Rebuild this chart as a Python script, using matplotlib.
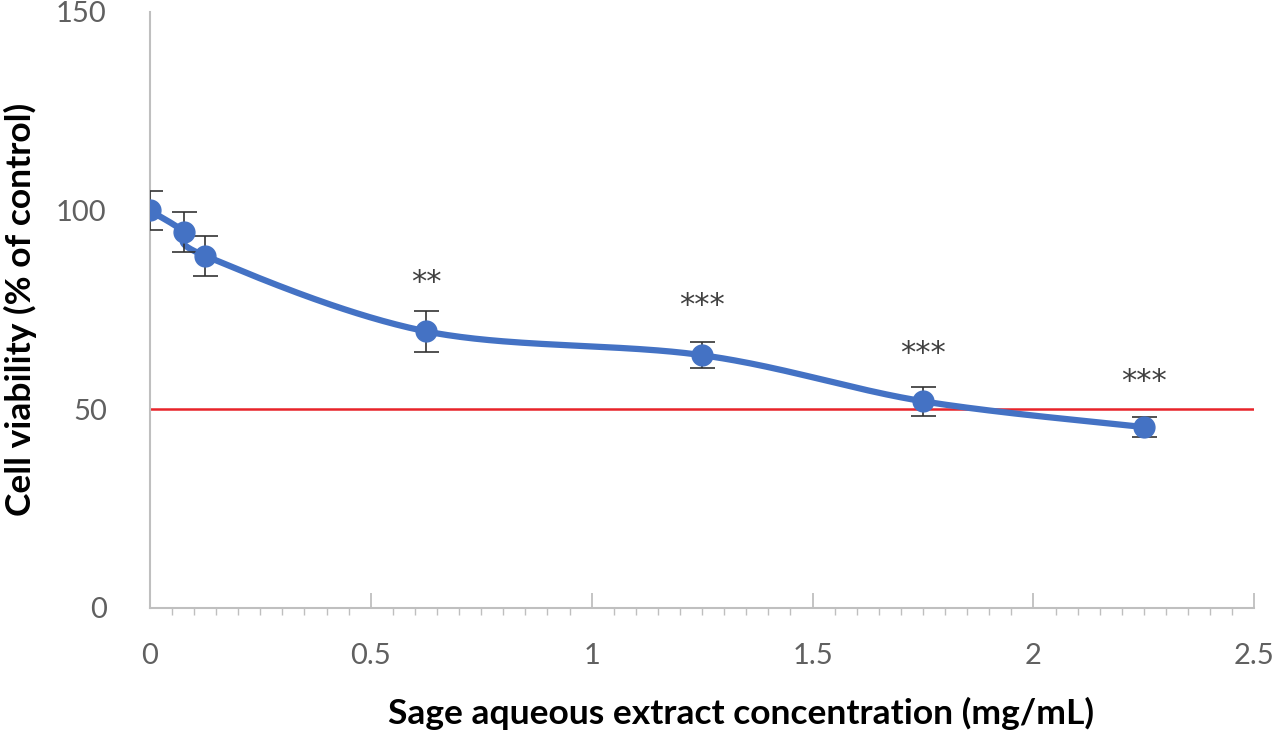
import numpy as np
import matplotlib
matplotlib.use("Agg")
import matplotlib.pyplot as plt
from matplotlib.ticker import MultipleLocator, FuncFormatter

conc = [0.0, 0.078, 0.125, 0.625, 1.25, 1.75, 2.25]
viability = [100.0, 94.6, 88.6, 69.6, 63.6, 52.0, 45.5]
sd = [5.0, 5.0, 5.0, 5.2, 3.2, 3.6, 2.5]
stars = ["", "", "", "**", "***", "***", "***"]
star_y = [0, 0, 0, 82, 76, 64, 57]
threshold = 50

plt.rcParams['font.family'] = ['Lato', 'DejaVu Sans']

fig = plt.figure(figsize=(12.8, 7.36), dpi=100)
ax = fig.add_axes([0.117, 0.174, 0.863, 0.81])

# smooth curve (Catmull-Rom style, like Excel smoothed lines)
P = np.column_stack([conc, viability])
n = len(P)
curve = []
for i in range(n - 1):
    p0 = P[i - 1] if i > 0 else P[i]
    p1 = P[i]
    p2 = P[i + 1]
    p3 = P[i + 2] if i + 2 < n else P[i + 1]
    c1 = p1 + (p2 - p0) / 6.0
    c2 = p2 - (p3 - p1) / 6.0
    t = np.linspace(0, 1, 60)[:, None]
    seg = ((1 - t) ** 3) * p1 + 3 * ((1 - t) ** 2) * t * c1 + 3 * (1 - t) * t ** 2 * c2 + t ** 3 * p2
    curve.append(seg)
curve = np.vstack(curve)

ax.plot([0, 2.5], [threshold, threshold], color='#e8242a', lw=1.8, zorder=1)
ax.plot(curve[:, 0], curve[:, 1], color='#4472c4', lw=4.5, zorder=2, solid_capstyle='round')
ax.errorbar(conc, viability, yerr=sd, fmt='none', ecolor='#333333', elinewidth=1.2,
            capsize=9, capthick=1.2, zorder=3)
ax.plot(conc, viability, 'o', color='#4472c4', ms=15, zorder=4)

for x, y, s in zip(conc, star_y, stars):
    if s:
        ax.text(x, y, s, ha='center', va='center', fontsize=22, color='#404040',
                family=['DejaVu Sans'])

ax.set_xlim(0, 2.5)
ax.set_ylim(0, 150)
ax.xaxis.set_major_locator(MultipleLocator(0.5))
ax.xaxis.set_minor_locator(MultipleLocator(0.05))
ax.yaxis.set_major_locator(MultipleLocator(50))
ax.xaxis.set_major_formatter(FuncFormatter(lambda v, p: ('%g' % v)))

for side in ['top', 'right']:
    ax.spines[side].set_visible(False)
for side in ['left', 'bottom']:
    ax.spines[side].set_color('#bfbfbf')
    ax.spines[side].set_linewidth(1.5)

ax.tick_params(axis='x', which='major', direction='in', length=11, width=1.3, color='#bfbfbf',
               labelsize=21, labelcolor='#606060', pad=25)
ax.tick_params(axis='x', which='minor', direction='out', length=5, width=1.0, color='#bfbfbf')
ax.tick_params(axis='y', which='major', length=0, labelsize=21, labelcolor='#606060', pad=31)

ax.set_xlabel('Sage aqueous extract concentration (mg/mL)', fontsize=25.5, fontweight='bold',
              color='black', labelpad=20)
ax.xaxis.label.set_x(0.535)
ax.set_ylabel('Cell viability (% of control)', fontsize=25.5, fontweight='bold', color='black',
              labelpad=14)

fig.savefig('out.png', dpi=100)
